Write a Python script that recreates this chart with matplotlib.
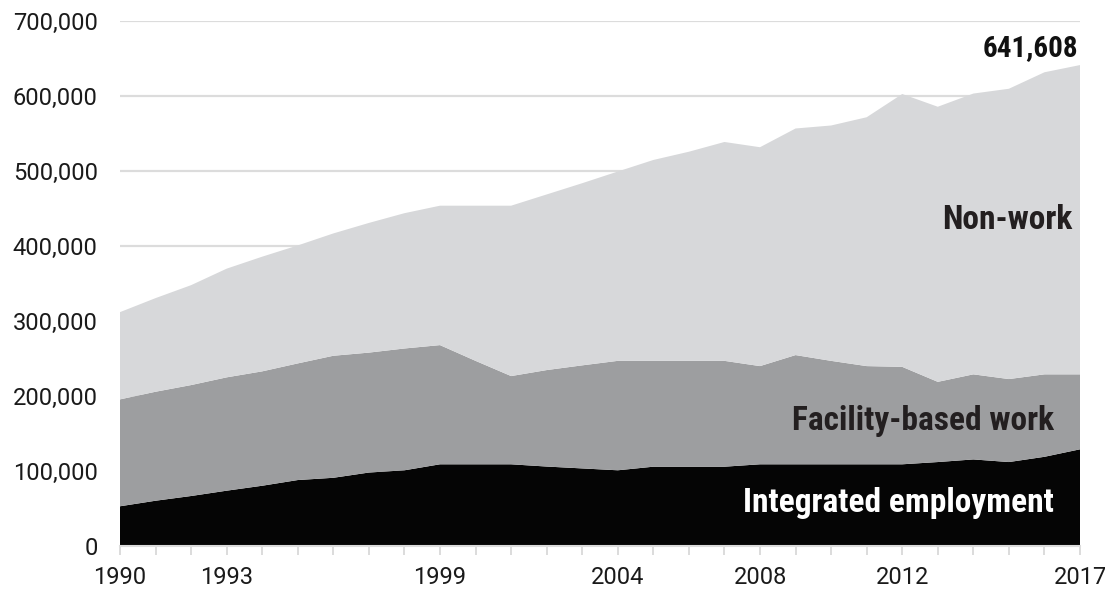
import numpy as np
import matplotlib.pyplot as plt
from matplotlib.ticker import FuncFormatter

years = np.arange(1990, 2018)
integrated = [53000, 60400, 66700, 73800, 80400, 88000, 91000, 98000, 101000, 109000,
              109000, 109000, 106000, 103500, 101000, 105800, 105800, 105800, 109000, 109000,
              109000, 109000, 109000, 112000, 115500, 112000, 119000, 129000]
facility_top = [195600, 205800, 214700, 225000, 233000, 243600, 253800, 258000, 263500, 268000,
                247000, 226700, 234700, 241000, 247000, 247000, 247000, 247000, 240000, 254700,
                247000, 240000, 239000, 219000, 229000, 222700, 229000, 229000]
total = [312000, 330700, 348000, 370000, 386000, 401000, 417000, 431000, 444000, 454000,
         454000, 454000, 469000, 484000, 499600, 515000, 526000, 539000, 532000, 557000,
         561000, 572000, 603000, 586000, 603600, 610000, 632000, 641608]

facility = np.array(facility_top) - np.array(integrated)
nonwork = np.array(total) - np.array(facility_top)

tick_years = [1990, 1993, 1999, 2004, 2008, 2012, 2017]

plt.rcParams['font.family'] = ['Roboto', 'DejaVu Sans']
label_font = ['Liberation Sans Narrow', 'Roboto Condensed', 'Roboto', 'DejaVu Sans']

fig = plt.figure(figsize=(11.05, 5.91), dpi=100)
ax = fig.add_axes([120/1105, 45/591, 960/1105, 524.7/591])

ax.stackplot(years, integrated, facility, nonwork,
             colors=['#050505', '#9d9ea0', '#d7d8da'], lw=0, zorder=2)

ax.set_xlim(1990, 2017)
ax.set_ylim(0, 700000)
ax.set_yticks(np.arange(0, 700001, 100000))
ax.yaxis.set_major_formatter(FuncFormatter(lambda v, p: f'{int(v):,}'))
for v in range(100000, 700001, 100000):
    ax.axhline(v, color='#dcdcdc', lw=1.6, zorder=1)

ax.set_xticks(years, minor=True)
ax.set_xticks(tick_years)
ax.tick_params(axis='x', which='both', length=6.5, width=1.4, color='#dcdcdc', pad=8,
               labelsize=17, labelcolor='#1a1a1a')
ax.tick_params(axis='y', length=0, pad=16, labelsize=17, labelcolor='#1a1a1a')

for s in ['top', 'right', 'left']:
    ax.spines[s].set_visible(False)
ax.spines['bottom'].set_color('#dcdcdc')
ax.spines['bottom'].set_linewidth(1.5)

ax.text(0.9917, 0.621, 'Non-work', transform=ax.transAxes, ha='right', va='center',
        fontsize=24, fontweight='bold', color='#231f20', family=label_font)
ax.text(0.9729, 0.238, 'Facility-based work', transform=ax.transAxes, ha='right', va='center',
        fontsize=24, fontweight='bold', color='#231f20', family=label_font)
ax.text(0.9729, 0.082, 'Integrated employment', transform=ax.transAxes, ha='right', va='center',
        fontsize=24, fontweight='bold', color='white', family=label_font)
ax.text(0.998, 0.949, '641,608', transform=ax.transAxes, ha='right', va='center',
        fontsize=21, fontweight='bold', color='#111111', family=label_font)

plt.savefig('out.png', dpi=100)
